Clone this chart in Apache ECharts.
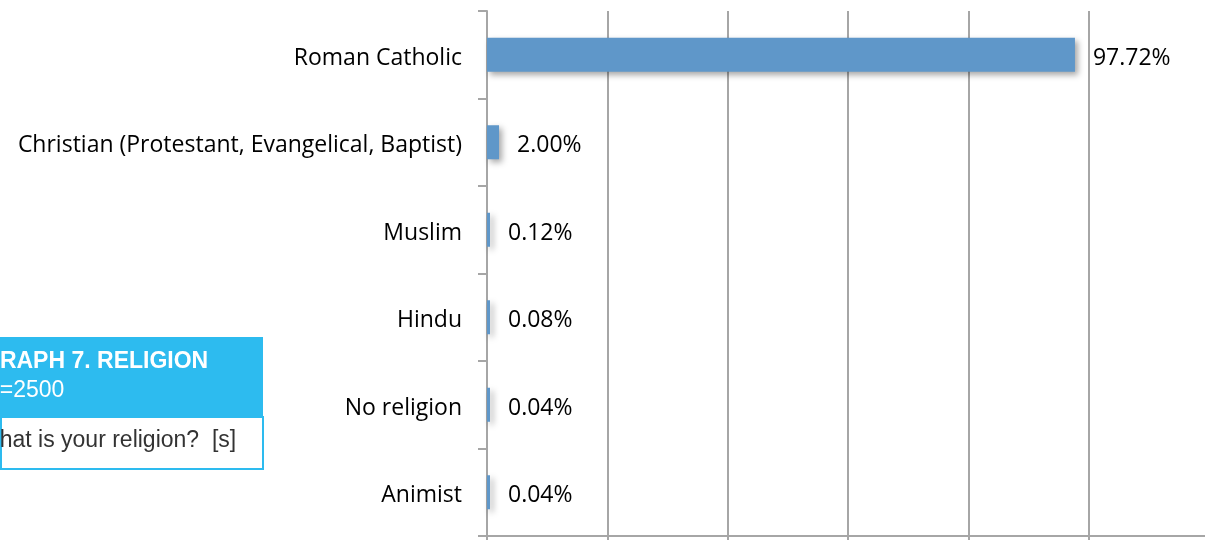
<!DOCTYPE html>
<html>
<head>
<meta charset="utf-8">
<script src="https://cdn.jsdelivr.net/npm/echarts@6/dist/echarts.min.js"></script>
<style>
html,body{margin:0;padding:0;background:#fff;}
#chart{width:1205px;height:540px;}
</style>
</head>
<body>
<div id="chart"></div>
<script>
// categories, top to bottom
var religions = ['Roman Catholic', 'Christian (Protestant, Evangelical, Baptist)', 'Muslim', 'Hindu', 'No religion', 'Animist'];
// share of respondents, %
var shares = [97.72, 2.00, 0.12, 0.08, 0.04, 0.04];
var xTicks = [0, 20, 40, 60, 80, 100, 120];

var myChart = echarts.init(document.getElementById('chart'));

var txt = { color: '#000', fontSize: 23, fontFamily: 'Open Sans', padding: [7, 0, 0, 0] };

var option = {
    backgroundColor: '#ffffff',
    animation: false,
    grid: { left: 487, width: 722, top: 11, height: 525, containLabel: false, outerBoundsMode: 'none' },
    xAxis: {
        type: 'value',
        min: xTicks[0],
        max: xTicks[xTicks.length - 1],
        interval: xTicks[1] - xTicks[0],
        axisLabel: { show: false },
        axisLine: { show: true, lineStyle: { color: '#a6a6a6', width: 2 } },
        axisTick: { show: true, length: 5, lineStyle: { color: '#a6a6a6', width: 2 } },
        splitLine: { show: true, lineStyle: { color: '#a6a6a6', width: 2 } }
    },
    yAxis: {
        type: 'category',
        inverse: true,
        data: religions,
        axisLine: { show: true, lineStyle: { color: '#a6a6a6', width: 2 } },
        axisTick: { show: true, length: 9, lineStyle: { color: '#a6a6a6', width: 2 } },
        axisLabel: {
            margin: 25,
            formatter: function (v) { return '{t|' + v + '}'; },
            rich: { t: txt }
        }
    },
    series: [{
        type: 'bar',
        data: shares,
        barWidth: 34,
        barMinHeight: 3,
        itemStyle: {
            color: '#5f97c9',
            shadowColor: 'rgba(0,0,0,0.35)',
            shadowBlur: 6,
            shadowOffsetX: 3,
            shadowOffsetY: 3
        },
        label: {
            show: true,
            position: 'right',
            distance: 18,
            formatter: function (p) { return '{t|' + p.value.toFixed(2) + '%}'; },
            rich: { t: txt }
        }
    }],
    graphic: [
        { type: 'rect', left: 0, top: 337, shape: { width: 263, height: 79 }, style: { fill: '#2dbbef' } },
        { type: 'rect', left: 0, top: 416, shape: { x: 0, y: 0, width: 262, height: 52 }, style: { fill: '#fff', stroke: '#2dbbef', lineWidth: 2 } },
        { type: 'text', x: -18, y: 362, style: { text: 'GRAPH 7. RELIGION', fill: '#fff', fontSize: 23, fontWeight: 'bold', fontFamily: 'Liberation Sans', verticalAlign: 'middle' } },
        { type: 'text', x: -13, y: 391, style: { text: 'n=2500', fill: '#fff', fontSize: 23, fontFamily: 'Liberation Sans', verticalAlign: 'middle' } },
        { type: 'text', x: -22, y: 441, style: { text: 'What is your religion?  [s]', fill: '#333', fontSize: 23, fontFamily: 'Liberation Sans', verticalAlign: 'middle' } }
    ]
};

myChart.setOption(option);
</script>
</body>
</html>
